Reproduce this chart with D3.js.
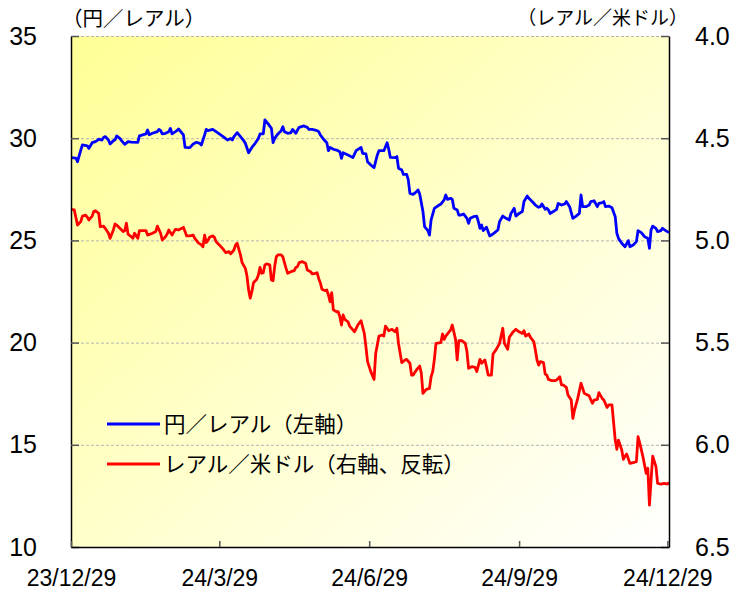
<!DOCTYPE html>
<html>
<head>
<meta charset="utf-8">
<script src="https://cdn.jsdelivr.net/npm/d3@7"></script>
<style>
  body { margin: 0; background: #fff; }
  svg { display: block; }
</style>
</head>
<body>
<div id="chart"></div>
<script>
// yen per real (left axis)
const yenReal = [
  ["2023-12-29", 29.05], ["2024-01-01", 29.02], ["2024-01-02", 28.85], ["2024-01-04", 29.42],
  ["2024-01-05", 29.67], ["2024-01-08", 29.63], ["2024-01-09", 29.50], ["2024-01-11", 29.78],
  ["2024-01-13", 29.83], ["2024-01-14", 29.88], ["2024-01-15", 29.95], ["2024-01-17", 29.91],
  ["2024-01-18", 30.04], ["2024-01-19", 30.08], ["2024-01-21", 29.91], ["2024-01-22", 29.72],
  ["2024-01-24", 29.88], ["2024-01-25", 29.91], ["2024-01-26", 30.11], ["2024-01-28", 29.99],
  ["2024-01-29", 29.88], ["2024-01-31", 29.70], ["2024-02-02", 29.83], ["2024-02-04", 29.81],
  ["2024-02-08", 29.80], ["2024-02-09", 30.11], ["2024-02-11", 30.16], ["2024-02-13", 30.21],
  ["2024-02-14", 30.40], ["2024-02-15", 30.17], ["2024-02-17", 30.24], ["2024-02-20", 30.32],
  ["2024-02-21", 30.43], ["2024-02-22", 30.37], ["2024-02-23", 30.21], ["2024-02-25", 30.24],
  ["2024-02-27", 30.32], ["2024-02-28", 30.48], ["2024-02-29", 30.21], ["2024-03-03", 30.37],
  ["2024-03-04", 30.45], ["2024-03-07", 30.16], ["2024-03-08", 29.55], ["2024-03-11", 29.54],
  ["2024-03-13", 29.72], ["2024-03-15", 29.80], ["2024-03-17", 29.75], ["2024-03-18", 29.67],
  ["2024-03-20", 30.16], ["2024-03-21", 30.43], ["2024-03-22", 30.37], ["2024-03-25", 30.43],
  ["2024-03-27", 30.32], ["2024-03-29", 30.21], ["2024-04-01", 30.04], ["2024-04-03", 29.91],
  ["2024-04-05", 29.99], ["2024-04-06", 29.91], ["2024-04-07", 30.08], ["2024-04-09", 30.27],
  ["2024-04-11", 30.08], ["2024-04-13", 29.88], ["2024-04-14", 29.75], ["2024-04-16", 29.29],
  ["2024-04-18", 29.55], ["2024-04-20", 29.75], ["2024-04-22", 29.99], ["2024-04-23", 30.21],
  ["2024-04-25", 30.21], ["2024-04-26", 30.89], ["2024-04-28", 30.70], ["2024-04-30", 30.48],
  ["2024-05-01", 29.78], ["2024-05-02", 29.99], ["2024-05-04", 30.21], ["2024-05-06", 30.37],
  ["2024-05-07", 30.56], ["2024-05-08", 30.32], ["2024-05-10", 30.24], ["2024-05-12", 30.27],
  ["2024-05-13", 30.43], ["2024-05-15", 30.24], ["2024-05-16", 30.40], ["2024-05-17", 30.53],
  ["2024-05-20", 30.60], ["2024-05-22", 30.53], ["2024-05-23", 30.43], ["2024-05-25", 30.43],
  ["2024-05-28", 30.37], ["2024-05-29", 30.32], ["2024-05-30", 30.16], ["2024-06-01", 29.95],
  ["2024-06-03", 29.78], ["2024-06-04", 29.39], ["2024-06-05", 29.55], ["2024-06-07", 29.46],
  ["2024-06-09", 29.42], ["2024-06-11", 29.34], ["2024-06-12", 29.01], ["2024-06-13", 29.29],
  ["2024-06-16", 29.18], ["2024-06-19", 29.05], ["2024-06-21", 29.39], ["2024-06-24", 29.55],
  ["2024-06-25", 29.26], ["2024-06-27", 29.23], ["2024-06-28", 28.85], ["2024-06-30", 28.69],
  ["2024-07-02", 28.56], ["2024-07-04", 29.18], ["2024-07-05", 29.39], ["2024-07-08", 29.39],
  ["2024-07-10", 29.78], ["2024-07-11", 29.46], ["2024-07-12", 29.06], ["2024-07-15", 29.05],
  ["2024-07-16", 29.10], ["2024-07-17", 28.53], ["2024-07-19", 28.44], ["2024-07-20", 28.23],
  ["2024-07-22", 28.23], ["2024-07-23", 27.96], ["2024-07-24", 27.30], ["2024-07-26", 27.25],
  ["2024-07-28", 27.38], ["2024-07-29", 27.47], ["2024-07-30", 27.27], ["2024-08-01", 26.41],
  ["2024-08-02", 25.67], ["2024-08-04", 25.48], ["2024-08-05", 25.26], ["2024-08-06", 26.00],
  ["2024-08-08", 26.57], ["2024-08-10", 26.68], ["2024-08-12", 26.78], ["2024-08-14", 26.98],
  ["2024-08-15", 27.22], ["2024-08-16", 27.01], ["2024-08-18", 27.06], ["2024-08-19", 27.01],
  ["2024-08-20", 26.57], ["2024-08-22", 26.49], ["2024-08-23", 26.24], ["2024-08-24", 26.24],
  ["2024-08-26", 26.29], ["2024-08-28", 26.08], ["2024-08-29", 25.83], ["2024-08-30", 26.08],
  ["2024-09-01", 26.16], ["2024-09-03", 26.19], ["2024-09-04", 25.92], ["2024-09-05", 25.59],
  ["2024-09-06", 25.75], ["2024-09-07", 25.48], ["2024-09-09", 25.64], ["2024-09-11", 25.22],
  ["2024-09-12", 25.26], ["2024-09-14", 25.38], ["2024-09-16", 25.51], ["2024-09-17", 25.92],
  ["2024-09-19", 26.19], ["2024-09-21", 26.08], ["2024-09-23", 26.00], ["2024-09-24", 26.32],
  ["2024-09-26", 26.57], ["2024-09-27", 26.19], ["2024-09-29", 26.32], ["2024-10-01", 26.41],
  ["2024-10-02", 26.90], ["2024-10-04", 27.17], ["2024-10-05", 27.06], ["2024-10-07", 26.90],
  ["2024-10-09", 26.73], ["2024-10-11", 26.62], ["2024-10-12", 26.65], ["2024-10-13", 26.78],
  ["2024-10-15", 26.52], ["2024-10-16", 26.57], ["2024-10-17", 26.49], ["2024-10-18", 26.32],
  ["2024-10-20", 26.41], ["2024-10-22", 26.52], ["2024-10-23", 26.81], ["2024-10-25", 26.73],
  ["2024-10-27", 26.78], ["2024-10-28", 26.90], ["2024-10-30", 26.65], ["2024-11-01", 26.08],
  ["2024-11-03", 26.19], ["2024-11-05", 26.32], ["2024-11-06", 27.22], ["2024-11-07", 26.65],
  ["2024-11-09", 26.65], ["2024-11-11", 26.73], ["2024-11-12", 26.90], ["2024-11-14", 26.94],
  ["2024-11-16", 26.65], ["2024-11-17", 26.81], ["2024-11-19", 26.85], ["2024-11-20", 26.90],
  ["2024-11-21", 26.65], ["2024-11-23", 26.68], ["2024-11-25", 26.60], ["2024-11-27", 26.16],
  ["2024-11-28", 25.35], ["2024-11-29", 25.10], ["2024-12-01", 24.86], ["2024-12-03", 24.69],
  ["2024-12-05", 24.99], ["2024-12-06", 24.69], ["2024-12-08", 24.77], ["2024-12-10", 24.94],
  ["2024-12-11", 25.48], ["2024-12-13", 25.38], ["2024-12-15", 25.18], ["2024-12-17", 25.10],
  ["2024-12-18", 24.61], ["2024-12-19", 25.51], ["2024-12-20", 25.70], ["2024-12-22", 25.59],
  ["2024-12-23", 25.43], ["2024-12-25", 25.48], ["2024-12-26", 25.59], ["2024-12-28", 25.48],
  ["2024-12-30", 25.38]
];

// real per US dollar (right axis, inverted)
const realUsd = [
  ["2023-12-29", 4.848], ["2023-12-31", 4.851], ["2024-01-02", 4.925], ["2024-01-04", 4.908],
  ["2024-01-05", 4.881], ["2024-01-07", 4.876], ["2024-01-08", 4.887], ["2024-01-09", 4.900],
  ["2024-01-11", 4.881], ["2024-01-12", 4.859], ["2024-01-13", 4.855], ["2024-01-15", 4.868],
  ["2024-01-16", 4.933], ["2024-01-18", 4.930], ["2024-01-19", 4.941], ["2024-01-21", 4.965],
  ["2024-01-22", 4.990], ["2024-01-24", 4.949], ["2024-01-25", 4.920], ["2024-01-26", 4.925],
  ["2024-01-28", 4.941], ["2024-01-30", 4.957], ["2024-01-31", 4.952], ["2024-02-01", 4.916],
  ["2024-02-02", 4.969], ["2024-02-04", 4.982], ["2024-02-05", 4.990], ["2024-02-06", 4.965],
  ["2024-02-08", 4.990], ["2024-02-09", 4.952], ["2024-02-11", 4.952], ["2024-02-13", 4.952],
  ["2024-02-14", 4.974], ["2024-02-17", 4.965], ["2024-02-19", 4.957], ["2024-02-20", 4.930],
  ["2024-02-22", 4.965], ["2024-02-23", 4.998], ["2024-02-25", 4.982], ["2024-02-26", 4.969],
  ["2024-02-27", 4.949], ["2024-02-29", 4.974], ["2024-03-02", 4.946], ["2024-03-04", 4.949],
  ["2024-03-06", 4.941], ["2024-03-07", 4.936], ["2024-03-09", 4.978], ["2024-03-11", 4.978],
  ["2024-03-13", 4.974], ["2024-03-14", 4.990], ["2024-03-16", 5.011], ["2024-03-18", 5.022],
  ["2024-03-19", 5.031], ["2024-03-20", 4.974], ["2024-03-21", 5.011], ["2024-03-22", 5.001],
  ["2024-03-23", 4.985], ["2024-03-25", 4.978], ["2024-03-26", 4.985], ["2024-03-27", 5.006],
  ["2024-03-29", 5.022], ["2024-03-31", 5.039], ["2024-04-02", 5.060], ["2024-04-04", 5.055],
  ["2024-04-05", 5.066], ["2024-04-07", 5.047], ["2024-04-08", 5.022], ["2024-04-09", 5.014],
  ["2024-04-11", 5.071], ["2024-04-12", 5.109], ["2024-04-14", 5.137], ["2024-04-15", 5.174],
  ["2024-04-16", 5.243], ["2024-04-17", 5.283], ["2024-04-18", 5.251], ["2024-04-19", 5.207],
  ["2024-04-21", 5.190], ["2024-04-22", 5.169], ["2024-04-23", 5.132], ["2024-04-24", 5.161],
  ["2024-04-25", 5.158], ["2024-04-26", 5.120], ["2024-04-27", 5.115], ["2024-04-29", 5.120],
  ["2024-04-30", 5.194], ["2024-05-01", 5.197], ["2024-05-02", 5.128], ["2024-05-03", 5.080],
  ["2024-05-04", 5.071], ["2024-05-06", 5.071], ["2024-05-07", 5.080], ["2024-05-09", 5.137],
  ["2024-05-10", 5.161], ["2024-05-12", 5.153], ["2024-05-14", 5.148], ["2024-05-15", 5.132],
  ["2024-05-16", 5.128], ["2024-05-17", 5.109], ["2024-05-19", 5.104], ["2024-05-21", 5.112],
  ["2024-05-22", 5.145], ["2024-05-24", 5.153], ["2024-05-25", 5.164], ["2024-05-27", 5.161],
  ["2024-05-28", 5.158], ["2024-05-29", 5.186], ["2024-05-30", 5.207], ["2024-05-31", 5.239],
  ["2024-06-02", 5.246], ["2024-06-03", 5.243], ["2024-06-04", 5.267], ["2024-06-05", 5.300],
  ["2024-06-06", 5.256], ["2024-06-07", 5.340], ["2024-06-09", 5.349], ["2024-06-10", 5.349],
  ["2024-06-11", 5.373], ["2024-06-12", 5.414], ["2024-06-13", 5.365], ["2024-06-14", 5.386],
  ["2024-06-16", 5.398], ["2024-06-17", 5.419], ["2024-06-19", 5.438], ["2024-06-20", 5.447],
  ["2024-06-22", 5.414], ["2024-06-24", 5.393], ["2024-06-26", 5.455], ["2024-06-27", 5.520],
  ["2024-06-28", 5.593], ["2024-06-30", 5.642], ["2024-07-02", 5.680], ["2024-07-03", 5.553],
  ["2024-07-05", 5.468], ["2024-07-07", 5.463], ["2024-07-08", 5.468], ["2024-07-09", 5.419],
  ["2024-07-11", 5.442], ["2024-07-13", 5.435], ["2024-07-15", 5.447], ["2024-07-16", 5.430],
  ["2024-07-17", 5.504], ["2024-07-19", 5.598], ["2024-07-21", 5.585], ["2024-07-22", 5.582],
  ["2024-07-24", 5.601], ["2024-07-25", 5.659], ["2024-07-26", 5.659], ["2024-07-28", 5.634],
  ["2024-07-30", 5.615], ["2024-07-31", 5.650], ["2024-08-01", 5.748], ["2024-08-03", 5.729],
  ["2024-08-05", 5.724], ["2024-08-06", 5.667], ["2024-08-07", 5.642], ["2024-08-08", 5.582],
  ["2024-08-09", 5.504], ["2024-08-12", 5.500], ["2024-08-13", 5.458], ["2024-08-14", 5.484],
  ["2024-08-15", 5.468], ["2024-08-18", 5.438], ["2024-08-19", 5.414], ["2024-08-21", 5.484],
  ["2024-08-22", 5.585], ["2024-08-23", 5.491], ["2024-08-25", 5.491], ["2024-08-27", 5.504],
  ["2024-08-28", 5.544], ["2024-08-29", 5.626], ["2024-08-31", 5.618], ["2024-09-02", 5.621],
  ["2024-09-03", 5.642], ["2024-09-05", 5.582], ["2024-09-06", 5.601], ["2024-09-08", 5.585],
  ["2024-09-09", 5.618], ["2024-09-10", 5.659], ["2024-09-12", 5.659], ["2024-09-13", 5.556],
  ["2024-09-15", 5.533], ["2024-09-17", 5.504], ["2024-09-19", 5.430], ["2024-09-20", 5.504],
  ["2024-09-22", 5.533], ["2024-09-23", 5.474], ["2024-09-25", 5.451], ["2024-09-27", 5.435],
  ["2024-09-29", 5.447], ["2024-10-01", 5.455], ["2024-10-02", 5.442], ["2024-10-03", 5.468],
  ["2024-10-05", 5.458], ["2024-10-06", 5.474], ["2024-10-08", 5.495], ["2024-10-09", 5.536],
  ["2024-10-10", 5.585], ["2024-10-11", 5.610], ["2024-10-12", 5.593], ["2024-10-14", 5.598],
  ["2024-10-15", 5.654], ["2024-10-16", 5.659], ["2024-10-17", 5.680], ["2024-10-19", 5.686],
  ["2024-10-21", 5.686], ["2024-10-22", 5.683], ["2024-10-24", 5.667], ["2024-10-25", 5.707],
  ["2024-10-26", 5.707], ["2024-10-28", 5.719], ["2024-10-29", 5.756], ["2024-10-31", 5.781],
  ["2024-11-01", 5.871], ["2024-11-02", 5.830], ["2024-11-04", 5.773], ["2024-11-06", 5.699],
  ["2024-11-08", 5.748], ["2024-11-10", 5.756], ["2024-11-11", 5.761], ["2024-11-13", 5.797],
  ["2024-11-14", 5.781], ["2024-11-16", 5.778], ["2024-11-17", 5.745], ["2024-11-19", 5.773],
  ["2024-11-20", 5.781], ["2024-11-22", 5.817], ["2024-11-23", 5.805], ["2024-11-25", 5.805],
  ["2024-11-27", 5.977], ["2024-11-28", 6.022], ["2024-11-29", 5.977], ["2024-12-01", 6.025],
  ["2024-12-02", 6.071], ["2024-12-03", 6.055], ["2024-12-04", 6.045], ["2024-12-06", 6.091],
  ["2024-12-08", 6.087], ["2024-12-10", 6.083], ["2024-12-11", 5.960], ["2024-12-12", 5.990],
  ["2024-12-14", 6.058], ["2024-12-15", 6.099], ["2024-12-16", 6.140], ["2024-12-17", 6.115],
  ["2024-12-18", 6.295], ["2024-12-19", 6.172], ["2024-12-20", 6.055], ["2024-12-22", 6.107],
  ["2024-12-23", 6.189], ["2024-12-25", 6.192], ["2024-12-27", 6.189], ["2024-12-29", 6.192],
  ["2024-12-30", 6.185]
];

const dateTicks = ["2023-12-29", "2024-03-29", "2024-06-29", "2024-09-29", "2024-12-29"];
const leftTicks = [10, 15, 20, 25, 30, 35];
const rightTicks = [4.0, 4.5, 5.0, 5.5, 6.0, 6.5];
const leftTitle = "（円／レアル）";
const rightTitle = "（レアル／米ドル）";
const legendItems = [
  {label: "円／レアル（左軸）", color: "#0000ff"},
  {label: "レアル／米ドル（右軸、反転）", color: "#ff0000"}
];

const width = 732, height = 595;
const margin = {top: 36, right: 63, bottom: 48, left: 71};
const parse = d3.timeParse("%Y-%m-%d");
const jp = "'Noto Sans CJK JP', sans-serif";
const num = "'Liberation Sans', Arial, sans-serif";

const x = d3.scaleTime()
    .domain([parse("2023-12-29"), parse("2024-12-30")])
    .range([margin.left, width - margin.right]);
const yL = d3.scaleLinear().domain([10, 35]).range([height - margin.bottom, margin.top]);
const yR = d3.scaleLinear().domain([4.0, 6.5]).range([margin.top, height - margin.bottom]);

const svg = d3.select("#chart").append("svg")
    .attr("width", width)
    .attr("height", height);

const grad = svg.append("defs").append("linearGradient")
    .attr("id", "bg")
    .attr("x1", 0).attr("y1", 0).attr("x2", 1).attr("y2", 1);
grad.append("stop").attr("offset", "0").attr("stop-color", "#ffff96");
grad.append("stop").attr("offset", "1").attr("stop-color", "#ffffff");

svg.append("rect")
    .attr("x", margin.left)
    .attr("y", margin.top)
    .attr("width", width - margin.left - margin.right)
    .attr("height", height - margin.top - margin.bottom)
    .attr("fill", "url(#bg)");

// dashed grid (incl. top edge)
svg.append("g")
  .selectAll("line")
  .data(leftTicks.slice(1))
  .join("line")
    .attr("x1", margin.left)
    .attr("x2", width - margin.right)
    .attr("y1", d => yL(d) + 0.5)
    .attr("y2", d => yL(d) + 0.5)
    .attr("stroke", "#b4b4b4")
    .attr("stroke-width", 1)
    .attr("stroke-dasharray", "3,2");

const lineYen = d3.line()
    .x(d => x(parse(d[0])))
    .y(d => yL(d[1]));
const lineUsd = d3.line()
    .x(d => x(parse(d[0])))
    .y(d => yR(d[1]));

svg.append("path")
    .datum(realUsd)
    .attr("fill", "none")
    .attr("stroke", legendItems[1].color)
    .attr("stroke-width", 2.8)
    .attr("stroke-linejoin", "round")
    .attr("d", lineUsd);

svg.append("path")
    .datum(yenReal)
    .attr("fill", "none")
    .attr("stroke", legendItems[0].color)
    .attr("stroke-width", 2.8)
    .attr("stroke-linejoin", "round")
    .attr("d", lineYen);

// axes
const styleAxis = g => g
    .call(g => g.select(".domain").attr("stroke", "#000").attr("stroke-width", 1.5))
    .call(g => g.selectAll(".tick line").attr("stroke", "#555").attr("stroke-width", 1.5))
    .call(g => g.selectAll(".tick text").attr("fill", "#000").attr("font-family", num));

svg.append("g")
    .attr("transform", `translate(${margin.left},0)`)
    .call(d3.axisLeft(yL).tickValues(leftTicks).tickSize(-8).tickSizeOuter(0).tickPadding(34).tickFormat(d3.format("d")))
    .call(styleAxis)
    .call(g => g.selectAll(".tick text").attr("font-size", 25));

svg.append("g")
    .attr("transform", `translate(${width - margin.right},0)`)
    .call(d3.axisRight(yR).tickValues(rightTicks).tickSize(-8).tickSizeOuter(0).tickPadding(26).tickFormat(d3.format(".1f")))
    .call(styleAxis)
    .call(g => g.selectAll(".tick text").attr("font-size", 25));

svg.append("g")
    .attr("transform", `translate(0,${height - margin.bottom})`)
    .call(d3.axisBottom(x).tickValues(dateTicks.map(parse)).tickSize(-6).tickSizeOuter(0).tickFormat(d3.timeFormat("%y/%-m/%-d")))
    .call(styleAxis)
    .call(g => g.selectAll(".tick text")
        .attr("y", 31)
        .attr("dy", "0.35em")
        .attr("font-size", 23));

// axis titles
svg.append("text")
    .attr("x", 62)
    .attr("y", 19)
    .attr("dy", "0.35em")
    .attr("font-family", jp)
    .attr("font-size", 20.5)
    .text(leftTitle);

svg.append("text")
    .attr("x", 688)
    .attr("y", 18)
    .attr("dy", "0.35em")
    .attr("text-anchor", "end")
    .attr("font-family", jp)
    .attr("font-size", 19)
    .text(rightTitle);

// legend
const legend = svg.append("g")
  .selectAll("g")
  .data(legendItems)
  .join("g")
    .attr("transform", (d, i) => `translate(107,${424 + i * 40})`);

legend.append("line")
    .attr("x2", 53)
    .attr("stroke", d => d.color)
    .attr("stroke-width", 2.8);

legend.append("text")
    .attr("x", 57)
    .attr("dy", "0.35em")
    .attr("font-family", jp)
    .attr("font-size", 21.5)
    .text(d => d.label);
</script>
</body>
</html>
